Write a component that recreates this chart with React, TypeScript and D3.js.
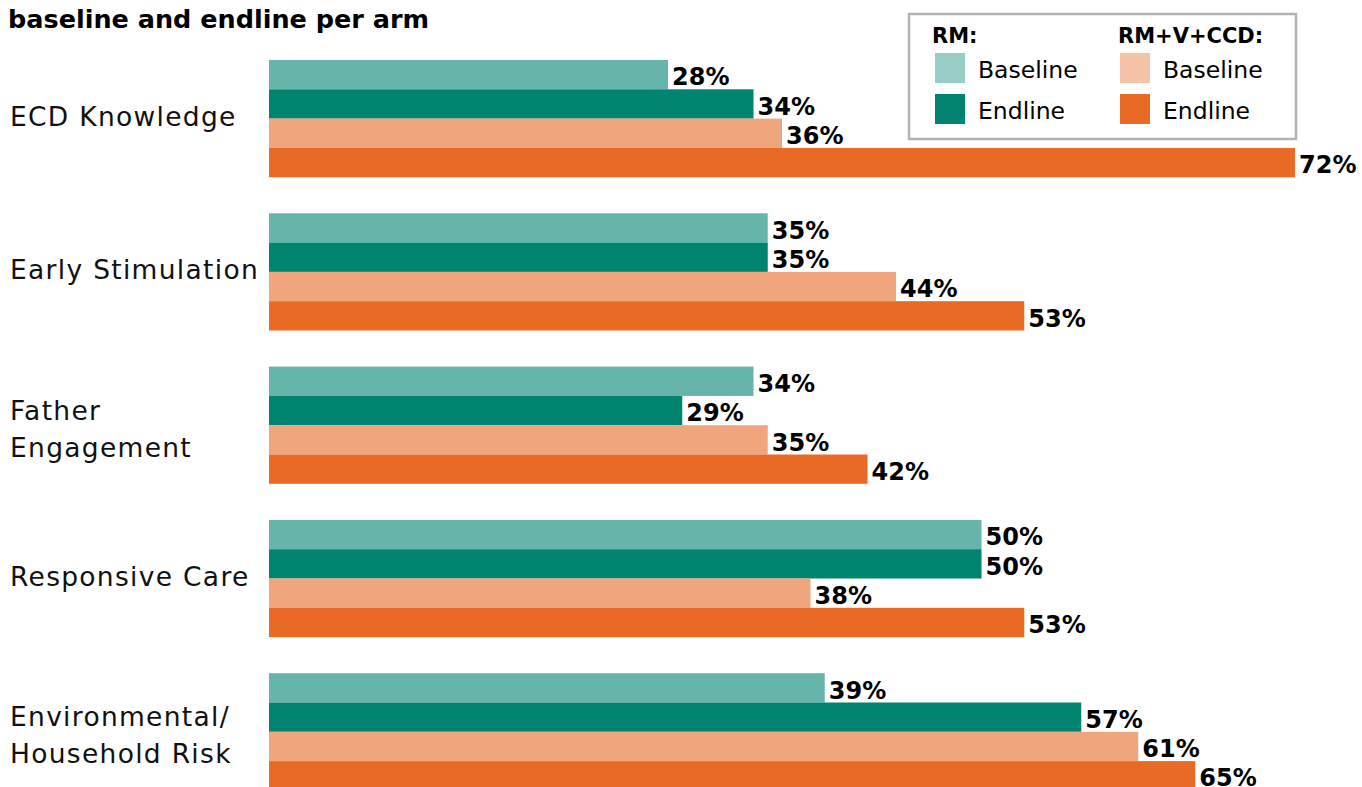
import React from "react";
import * as d3 from "d3";

const categories = [
  ["ECD Knowledge"],
  ["Early Stimulation"],
  ["Father", "Engagement"],
  ["Responsive Care"],
  ["Environmental/", "Household Risk"],
];
const seriesNames = ["RM Baseline", "RM Endline", "RM+V+CCD Baseline", "RM+V+CCD Endline"];
const rmBaseline = [28, 35, 34, 50, 39];
const rmEndline = [34, 35, 29, 50, 57];
const ccdBaseline = [36, 44, 35, 38, 61];
const ccdEndline = [72, 53, 42, 53, 65];
const legendGroups = ["RM:", "RM+V+CCD:"];
const legendItems = ["Baseline", "Endline"];
const barColors = ["#66b5ab", "#00846f", "#f0a67c", "#e86a25"];
const legendColors = ["#99cec6", "#00846f", "#f6c3a7", "#e86a25"];

const W = 1362;
const H = 787;
const FONT = "'DejaVu Sans', sans-serif";

export default function App() {
  const series = [rmBaseline, rmEndline, ccdBaseline, ccdEndline];
  const x = d3.scaleLinear().domain([0, 72]).range([269, 1295]);
  const groupH = 117.2;
  const y0 = d3
    .scaleBand<number>()
    .domain(d3.range(categories.length))
    .range([60, 60 + 153.3 * 5]);
  const y1 = d3
    .scaleBand<number>()
    .domain(d3.range(seriesNames.length))
    .range([0, groupH]);

  return (
    <svg
      width={W}
      height={H}
      style={{ position: "absolute", left: 0, top: 0, background: "#fff" }}
      fontFamily={FONT}
    >
      <text x={8} y={28} fontSize={25.5} fontWeight={700} fill="#000">
        baseline and endline per arm
      </text>

      {categories.map((lines, ci) => {
        const gy = y0(ci)!;
        const cy = gy + groupH / 2;
        const first = lines.length === 1 ? cy + 7.5 : cy - 5.5;
        return (
          <g key={ci}>
            {lines.map((ln, li) => (
              <text
                key={li}
                x={10}
                y={first + li * 37}
                fontSize={26.5}
                letterSpacing={1.3}
                fill="#111"
              >
                {ln}
              </text>
            ))}
            {series.map((s, si) => {
              const by = gy + y1(si)!;
              const bh = y1.bandwidth();
              return (
                <g key={si}>
                  <rect x={x(0)} y={by} width={x(s[ci]) - x(0)} height={bh} fill={barColors[si]} />
                  <text
                    x={x(s[ci]) + 4}
                    y={by + bh - 4}
                    fontSize={24}
                    fontWeight={700}
                    fill="#000"
                  >
                    {s[ci]}%
                  </text>
                </g>
              );
            })}
          </g>
        );
      })}

      <g>
        <rect x={909} y={14} width={387} height={125} fill="#fff" stroke="#b3b3b3" strokeWidth={2.5} />
        {legendGroups.map((g, gi) => (
          <text key={g} x={gi === 0 ? 932 : 1118} y={43} fontSize={21} fontWeight={700} fill="#000">
            {g}
          </text>
        ))}
        {[0, 1, 2, 3].map((i) => {
          const col = i < 2 ? 0 : 1;
          const row = i % 2;
          const sx = col === 0 ? 935 : 1120;
          const sy = 53 + row * 41;
          return (
            <g key={i}>
              <rect x={sx} y={sy} width={30} height={30} fill={legendColors[i]} />
              <text x={sx + 43} y={sy + 25} fontSize={23.5} fill="#000">
                {legendItems[row]}
              </text>
            </g>
          );
        })}
      </g>
    </svg>
  );
}
